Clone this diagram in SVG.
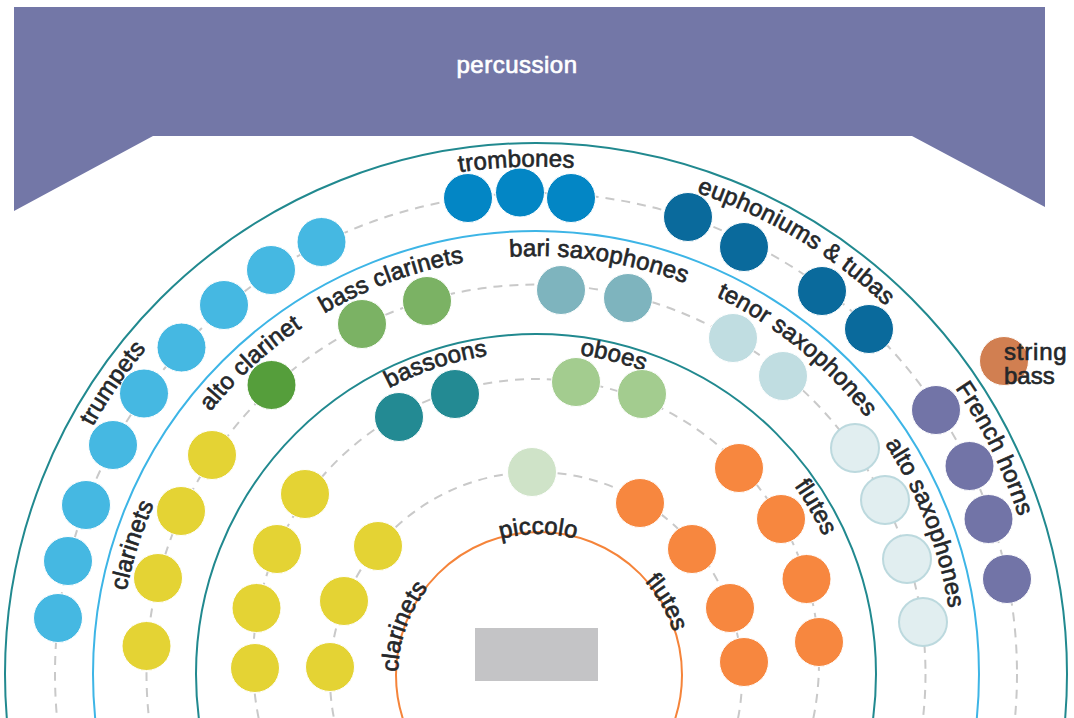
<svg xmlns="http://www.w3.org/2000/svg" xmlns:xlink="http://www.w3.org/1999/xlink" width="1074" height="718" viewBox="0 0 1074 718">
<style>
.lbl{font-family:"Liberation Sans",Arial,sans-serif;font-size:24px;fill:#24272a;stroke:#24272a;stroke-width:0.65px;letter-spacing:0.2px;text-anchor:middle}
.plain{font-family:"Liberation Sans",Arial,sans-serif;font-size:24px;fill:#24272a;stroke:#24272a;stroke-width:0.65px}
.seat{stroke:#ffffff;stroke-width:1}
.row{fill:none;stroke:#c9c9c9;stroke-width:2;stroke-dasharray:9 7}
.ring{fill:none;stroke-width:2}
.trumpet{fill:#45b8e2}.trombone{fill:#0386c5}.euph{fill:#0a6a9c}.horn{fill:#7274a7}.sbass{fill:#d17f51}
.clar{fill:#e4d334}.altocl{fill:#559e3b}.basscl{fill:#7bb264}.bari{fill:#7eb4be}.tenor{fill:#c0dde1}
.altosax{fill:#e1eef0;stroke:#bcd9de;stroke-width:2}.bassoon{fill:#238a93}.oboe{fill:#a3cc8f}.flute{fill:#f7873f}.piccolo{fill:#cfe3c8}
</style>
<defs>
<path id="p4" d="M536,1181.5 A507.5,507.5 0 0 1 536,166.5 A507.5,507.5 0 0 1 536,1181.5"/>
<path id="p3" d="M536,1092 A418,418 0 0 1 536,256 A418,418 0 0 1 536,1092"/>
<path id="p2" d="M536,984 A316,316 0 0 1 536,352 A316,316 0 0 1 536,984"/>
<path id="p1" d="M539,816 A141,141 0 0 1 539,534 A141,141 0 0 1 539,816"/>
</defs>
<rect width="1074" height="718" fill="#ffffff"/>
<g id="percussion">
<polygon points="14,7 1045,7 1045,207 912,136 153,136 14,211" fill="#7377a7"/>
<text x="517" y="73" text-anchor="middle" font-family="Liberation Sans, Arial, sans-serif" font-size="24" fill="#ffffff" stroke="#ffffff" stroke-width="0.7" letter-spacing="0.5">percussion</text>
</g>
<g id="rings">
<circle class="ring" cx="536" cy="674" r="531" stroke="#21898f"/>
<circle class="ring" cx="536" cy="674" r="443" stroke="#3db5e6"/>
<circle class="ring" cx="536" cy="674" r="340" stroke="#21898f"/>
<circle class="ring" cx="539" cy="675" r="143" stroke="#f5843a"/>
</g>
<g id="connectors">
<circle class="row" cx="536" cy="674" r="481"/>
<circle class="row" cx="536" cy="674" r="389.5"/>
<circle class="row" cx="536" cy="662" r="283"/>
<circle class="row" cx="536" cy="678" r="206"/>
</g>
<g id="conductor">
<rect x="475" y="628" width="123" height="53" fill="#c4c4c6"/>
</g>
<g id="trumpets">
<text class="lbl"><textPath xlink:href="#p4" href="#p4" startOffset="1102.8">trumpets</textPath></text>
<circle class="seat trumpet" cx="321.5" cy="242" r="24.5"/>
<circle class="seat trumpet" cx="271" cy="270" r="24.5"/>
<circle class="seat trumpet" cx="224" cy="305" r="24.5"/>
<circle class="seat trumpet" cx="181.5" cy="347.5" r="24.5"/>
<circle class="seat trumpet" cx="144" cy="393.5" r="24.5"/>
<circle class="seat trumpet" cx="113" cy="445" r="24.5"/>
<circle class="seat trumpet" cx="86" cy="505" r="24.5"/>
<circle class="seat trumpet" cx="68" cy="561" r="24.5"/>
<circle class="seat trumpet" cx="58" cy="618" r="24.5"/>
</g>
<g id="trombones">
<text class="lbl"><textPath xlink:href="#p4" href="#p4" startOffset="1574.9">trombones</textPath></text>
<circle class="seat trombone" cx="468" cy="198" r="24.5"/>
<circle class="seat trombone" cx="571" cy="198" r="24.5"/>
<circle class="seat trombone" cx="520" cy="192.5" r="24.5"/>
</g>
<g id="euphoniums-tubas">
<text class="lbl"><textPath xlink:href="#p4" href="#p4" startOffset="1868.9">euphoniums &amp; tubas</textPath></text>
<circle class="seat euph" cx="688" cy="217" r="24.5"/>
<circle class="seat euph" cx="744" cy="247" r="24.5"/>
<circle class="seat euph" cx="822" cy="291" r="24.5"/>
<circle class="seat euph" cx="869" cy="329" r="24.5"/>
</g>
<g id="french-horns">
<text class="lbl"><textPath xlink:href="#p4" href="#p4" startOffset="2159.5">French horns</textPath></text>
<circle class="seat horn" cx="936" cy="410" r="24.5"/>
<circle class="seat horn" cx="969.5" cy="466" r="24.5"/>
<circle class="seat horn" cx="988.5" cy="519" r="24.5"/>
<circle class="seat horn" cx="1007" cy="579" r="24.5"/>
</g>
<g id="string-bass">
<circle class="seat sbass" cx="1004" cy="361" r="24.5"/>
<text class="plain" x="1004" y="360" letter-spacing="0.8">string</text>
<text class="plain" x="1004" y="384">bass</text>
</g>
<g id="clarinets-outer">
<text class="lbl"><textPath xlink:href="#p3" href="#p3" startOffset="785.7">clarinets</textPath></text>
<circle class="seat clar" cx="212" cy="455" r="24.5"/>
<circle class="seat clar" cx="181" cy="511" r="24.5"/>
<circle class="seat clar" cx="158" cy="578" r="24.5"/>
<circle class="seat clar" cx="146.5" cy="646" r="24.5"/>
</g>
<g id="alto-clarinet">
<text class="lbl"><textPath xlink:href="#p3" href="#p3" startOffset="1002.4">alto clarinet</textPath></text>
<circle class="seat altocl" cx="271.5" cy="385" r="24.5"/>
</g>
<g id="bass-clarinets">
<text class="lbl"><textPath xlink:href="#p3" href="#p3" startOffset="1165.8">bass clarinets</textPath></text>
<circle class="seat basscl" cx="362" cy="324" r="24.5"/>
<circle class="seat basscl" cx="427" cy="301" r="24.5"/>
</g>
<g id="bari-saxophones">
<text class="lbl"><textPath xlink:href="#p3" href="#p3" startOffset="1375.9">bari saxophones</textPath></text>
<circle class="seat bari" cx="561" cy="290" r="24.5"/>
<circle class="seat bari" cx="628" cy="298" r="24.5"/>
</g>
<g id="tenor-saxophones">
<text class="lbl"><textPath xlink:href="#p3" href="#p3" startOffset="1596.3">tenor saxophones</textPath></text>
<circle class="seat tenor" cx="733" cy="338" r="24.5"/>
<circle class="seat tenor" cx="783" cy="376" r="24.5"/>
</g>
<g id="alto-saxophones">
<text class="lbl"><textPath xlink:href="#p3" href="#p3" startOffset="1814.4">alto saxophones</textPath></text>
<circle class="altosax" cx="855" cy="448" r="24"/>
<circle class="altosax" cx="885" cy="500" r="24"/>
<circle class="altosax" cx="907" cy="559" r="24"/>
<circle class="altosax" cx="923" cy="622" r="24"/>
</g>
<g id="clarinets-middle">
<circle class="seat clar" cx="305" cy="494" r="24.5"/>
<circle class="seat clar" cx="277" cy="549" r="24.5"/>
<circle class="seat clar" cx="256.5" cy="608" r="24.5"/>
<circle class="seat clar" cx="255" cy="668" r="24.5"/>
</g>
<g id="bassoons">
<text class="lbl"><textPath xlink:href="#p2" href="#p2" startOffset="891.8">bassoons</textPath></text>
<circle class="seat bassoon" cx="399" cy="417" r="24.5"/>
<circle class="seat bassoon" cx="455" cy="394" r="24.5"/>
</g>
<g id="oboes">
<text class="lbl"><textPath xlink:href="#p2" href="#p2" startOffset="1069.4">oboes</textPath></text>
<circle class="seat oboe" cx="576" cy="382" r="24.5"/>
<circle class="seat oboe" cx="642" cy="394" r="24.5"/>
</g>
<g id="flutes-outer">
<text class="lbl"><textPath xlink:href="#p2" href="#p2" startOffset="1323.7">flutes</textPath></text>
<circle class="seat flute" cx="739" cy="468" r="24.5"/>
<circle class="seat flute" cx="781" cy="519" r="24.5"/>
<circle class="seat flute" cx="806.5" cy="579" r="24.5"/>
<circle class="seat flute" cx="819" cy="642" r="24.5"/>
</g>
<g id="piccolo">
<text class="lbl"><textPath xlink:href="#p1" href="#p1" startOffset="442.2">piccolo</textPath></text>
<circle class="seat piccolo" cx="532" cy="472" r="24.5"/>
</g>
<g id="flutes-inner">
<text class="lbl"><textPath xlink:href="#p1" href="#p1" startOffset="591.4">flutes</textPath></text>
<circle class="seat flute" cx="640" cy="503" r="24.5"/>
<circle class="seat flute" cx="692" cy="549" r="24.5"/>
<circle class="seat flute" cx="730" cy="608" r="24.5"/>
<circle class="seat flute" cx="744" cy="662" r="24.5"/>
</g>
<g id="clarinets-inner">
<text class="lbl"><textPath xlink:href="#p1" href="#p1" startOffset="270.0">clarinets</textPath></text>
<circle class="seat clar" cx="378" cy="546" r="24.5"/>
<circle class="seat clar" cx="344" cy="601" r="24.5"/>
<circle class="seat clar" cx="330" cy="667" r="24.5"/>
</g>
</svg>
